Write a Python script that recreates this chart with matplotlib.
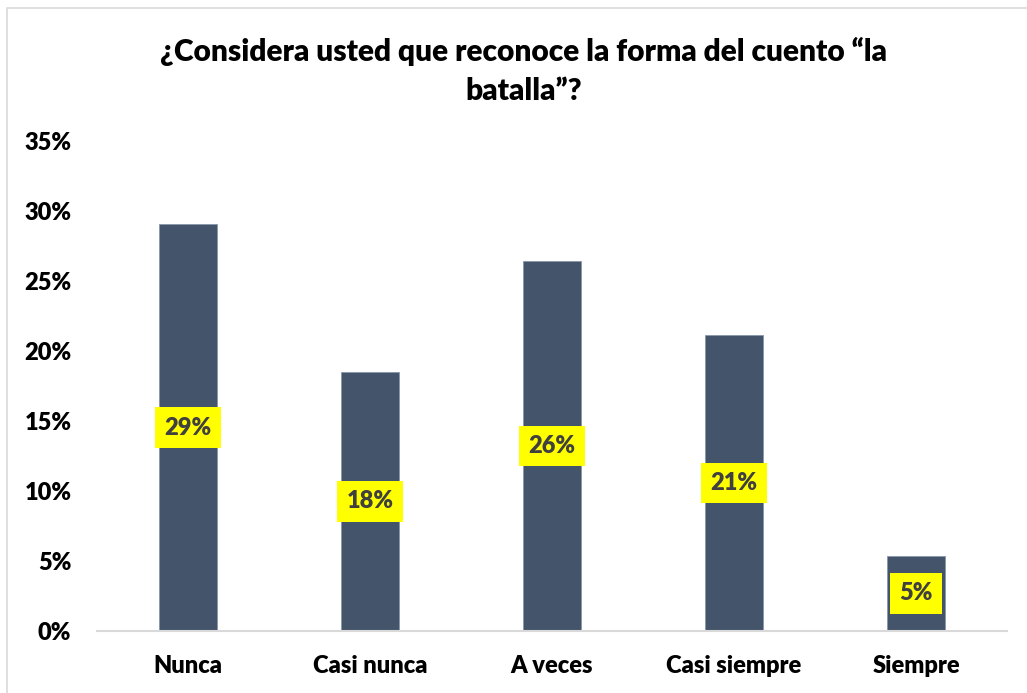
import matplotlib.pyplot as plt
from matplotlib.patches import Rectangle
from matplotlib.ticker import PercentFormatter

categories = ['Nunca', 'Casi nunca', 'A veces', 'Casi siempre', 'Siempre']
values = [0.2907, 0.185, 0.2643, 0.2114, 0.0536]
labels = ['29%', '18%', '26%', '21%', '5%']

plt.rcParams['font.family'] = ['Lato', 'DejaVu Sans']
plt.rcParams['font.weight'] = 'heavy'

fig = plt.figure(figsize=(10.27, 6.93), dpi=100)
ax = fig.add_axes([97 / 1027, 1 - 631 / 693, 910 / 1027, 490 / 693])

x = range(len(categories))
bars = ax.bar(x, values, width=0.32, color='#44546A', edgecolor='#8896AA', linewidth=0.6)

for b, lab in zip(bars, labels):
    ax.text(b.get_x() + b.get_width() / 2, b.get_height() / 2, lab,
            ha='center', va='center', fontsize=17, fontweight='heavy', color='#404040',
            bbox=dict(boxstyle='square,pad=0.4', facecolor='#FFFF00', edgecolor='none'))

ax.set_xlim(-0.5, len(categories) - 0.5)
ax.set_ylim(0, 0.35)
ax.set_yticks([0, 0.05, 0.10, 0.15, 0.20, 0.25, 0.30, 0.35])
ax.yaxis.set_major_formatter(PercentFormatter(1.0, decimals=0))
ax.set_xticks(list(x))
ax.set_xticklabels(categories)
ax.tick_params(axis='both', length=0, labelsize=17, labelcolor='black')
ax.tick_params(axis='y', pad=18.5)
ax.tick_params(axis='x', pad=17)
for lbl in ax.get_xticklabels() + ax.get_yticklabels():
    lbl.set_fontweight('heavy')

for s in ('top', 'right', 'left'):
    ax.spines[s].set_visible(False)
ax.spines['bottom'].set_color('#D9D9D9')
ax.spines['bottom'].set_linewidth(1.5)

fig.text(524 / 1027, 1 - 71 / 693,
         '¿Considera usted que reconoce la forma del cuento “la\nbatalla”?',
         ha='center', va='center', fontsize=21.5, fontweight='heavy',
         linespacing=1.5)

fig.patches.append(Rectangle((7 / 1027, -0.05), 1.1, 1 - 8 / 693 + 0.05,
                             transform=fig.transFigure, fill=False,
                             edgecolor='#D9D9D9', linewidth=1.2))

fig.savefig('out.png', dpi=100)
